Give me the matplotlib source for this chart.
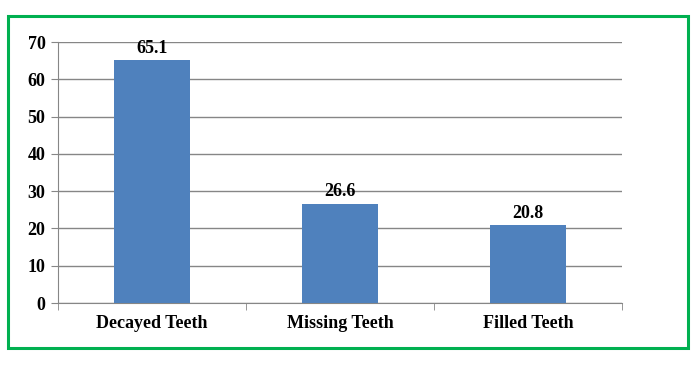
import numpy as np
import matplotlib.pyplot as plt
from matplotlib.patches import Rectangle

categories = ['Decayed Teeth', 'Missing Teeth', 'Filled Teeth']
values = [65.1, 26.6, 20.8]
yticks = [0, 10, 20, 30, 40, 50, 60, 70]

plt.rcParams['font.family'] = ['Liberation Serif', 'DejaVu Serif']
plt.rcParams['font.weight'] = 'bold'

fig = plt.figure(figsize=(6.98, 3.65), dpi=100)
ax = fig.add_axes([58 / 698, 1 - 303 / 365, (622 - 58) / 698, (303 - 42) / 365])

x = np.arange(len(categories))
bars = ax.bar(x, values, width=0.4, color='#4F81BD', zorder=3)
for b, v in zip(bars, values):
    ax.text(b.get_x() + b.get_width() / 2, v + 1.0, '%.1f' % v,
            ha='center', va='bottom', fontsize=13, fontweight='bold')

ax.set_xlim(-0.5, len(categories) - 0.5)
ax.set_ylim(0, 70)
ax.set_yticks(yticks)
ax.set_xticks(x)
ax.set_xticklabels(categories, fontsize=13, fontweight='bold')
ax.set_xticks(np.arange(-0.5, len(categories)), minor=True)
ax.tick_params(axis='x', which='major', length=0, pad=9)
ax.tick_params(axis='x', which='minor', length=5, direction='out', color='#868686')
ax.tick_params(axis='y', length=5, color='#868686', labelsize=13, pad=4)
for lab in ax.get_yticklabels():
    lab.set_fontweight('bold')

ax.grid(axis='y', color='#868686', linewidth=1, zorder=0)
for s in ['top', 'right']:
    ax.spines[s].set_visible(False)
ax.spines['left'].set_color('#868686')
ax.spines['bottom'].set_color('#868686')

fig.patches.append(Rectangle((8 / 698, 1 - 348 / 365), 680 / 698, 332 / 365,
                             transform=fig.transFigure, fill=False,
                             edgecolor='#00B050', linewidth=2.2))

fig.savefig('out.png', dpi=100)
